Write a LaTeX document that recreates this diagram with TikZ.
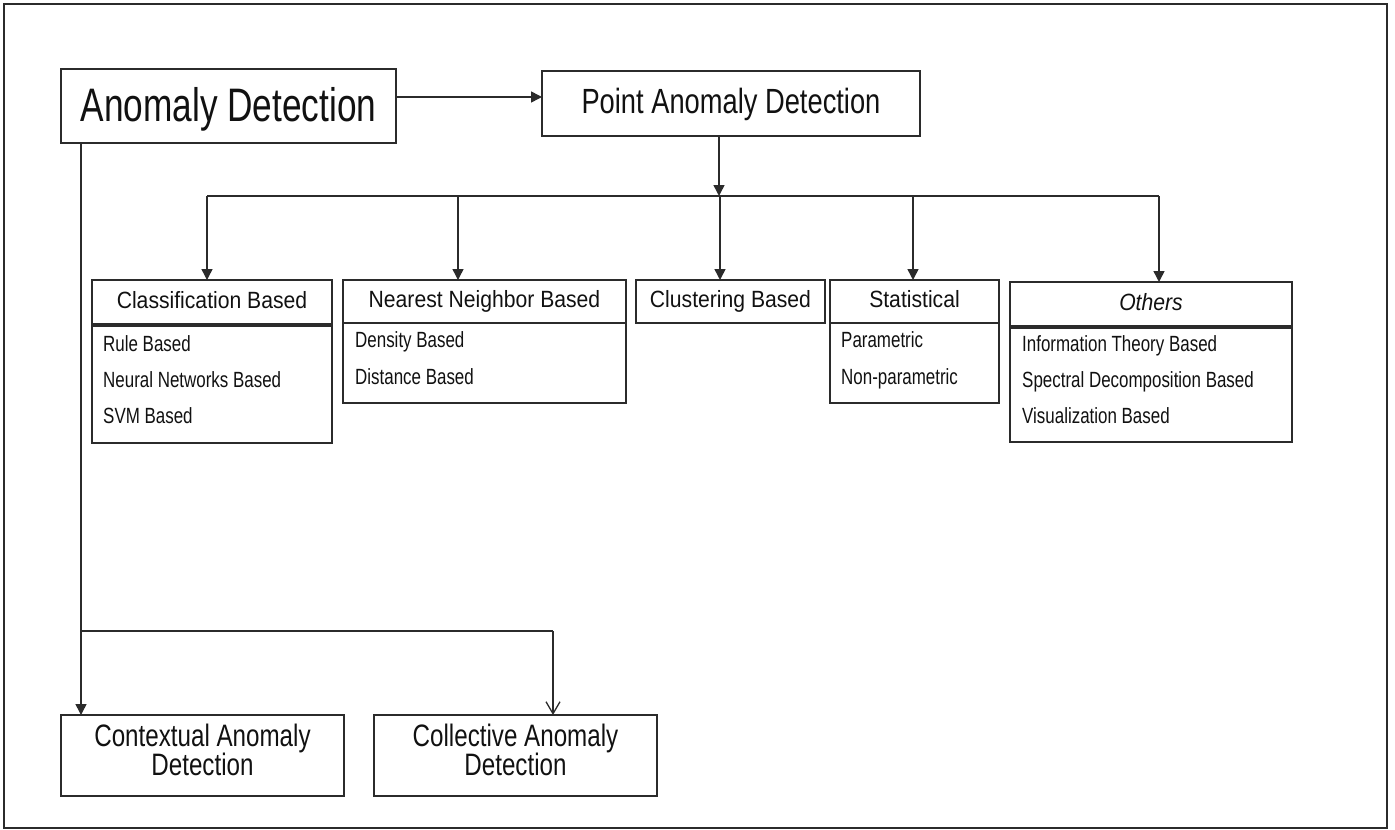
\documentclass[tikz,border=0pt]{standalone}
\usepackage{fontspec}
\usetikzlibrary{arrows.meta}
\newfontfamily\fTitle[FakeStretch=0.75]{Liberation Sans}
\newfontfamily\fPoint[FakeStretch=0.78]{Liberation Sans}
\newfontfamily\fHead[FakeStretch=0.9]{Liberation Sans}
\newfontfamily\fItem[FakeStretch=0.77]{Liberation Sans}
\newfontfamily\fBot[FakeStretch=0.78]{Liberation Sans}
\definecolor{linec}{HTML}{2B2B2B}
\definecolor{txtc}{HTML}{111111}
\tikzset{
  box/.style={draw=linec, line width=1.6pt, inner sep=0pt, outer sep=0pt, anchor=north west, text=txtc},
  titletext/.style={font=\fTitle\fontsize{47}{50}\selectfont, text height=34pt, text depth=4pt},
  pointtext/.style={font=\fPoint\fontsize{35}{38}\selectfont, text height=25pt, text depth=6pt},
  headtext/.style={font=\fHead\fontsize{23.5}{26}\selectfont, text height=17pt, text depth=6pt},
  itemtext/.style={font=\fItem\fontsize{22}{24}\selectfont, inner sep=0pt, anchor=base west, text=txtc},
  bottext/.style={font=\fBot\fontsize{31}{33}\selectfont, inner sep=0pt, anchor=base, text=txtc},
  conn/.style={draw=linec, line width=1.5pt},
  arr/.style={conn, -{Triangle[length=11pt,width=11pt]}},
  oarr/.style={conn, -{Straight Barb[length=12pt,width=14pt,line width=1.3pt]}},
  divider/.style={draw=linec, line width=3.2pt},
}
\begin{document}
\begin{tikzpicture}[x=1pt,y=-1pt]
\useasboundingbox (0,0) rectangle (1395,830);
\draw[draw=linec, line width=2pt] (4,4) rectangle (1387,828);

% top level
\node[box, titletext, minimum width=335pt, minimum height=74pt] (anom) at (61,69) {Anomaly Detection};
\node[box, pointtext, minimum width=378pt, minimum height=65pt] (point) at (542,71) {Point Anomaly Detection};

% category boxes
\node[box, headtext, minimum width=240pt, minimum height=45pt] (cls) at (92,280) {Classification Based};
\node[box, minimum width=240pt, minimum height=118pt] (clsb) at (92,325) {};
\node[box, headtext, minimum width=283pt, minimum height=43pt] (nn) at (343,280) {Nearest Neighbor Based};
\node[box, minimum width=283pt, minimum height=80pt] (nnb) at (343,323) {};
\node[box, headtext, minimum width=189pt, minimum height=43pt] (clu) at (636,280) {Clustering Based};
\node[box, headtext, minimum width=169pt, minimum height=43pt] (sta) at (830,280) {Statistical};
\node[box, minimum width=169pt, minimum height=80pt] (stab) at (830,323) {};
\node[box, headtext, minimum width=282pt, minimum height=45pt] (oth) at (1010,282) {\itshape Others};
\node[box, minimum width=282pt, minimum height=115pt] (othb) at (1010,327) {};
\draw[divider] (clsb.north west) -- (clsb.north east);
\draw[divider] (othb.north west) -- (othb.north east);

% items
\node[itemtext] (c1) at (103,351) {Rule Based};
\node[itemtext] (c2) at (103,387) {Neural Networks Based};
\node[itemtext] (c3) at (103,423) {SVM Based};
\node[itemtext] (n1) at (355,347) {Density Based};
\node[itemtext] (n2) at (355,384) {Distance Based};
\node[itemtext] (s1) at (841,347) {Parametric};
\node[itemtext] (s2) at (841,384) {Non-parametric};
\node[itemtext] (o1) at (1022,351) {Information Theory Based};
\node[itemtext] (o2) at (1022,387) {Spectral Decomposition Based};
\node[itemtext] (o3) at (1022,423) {Visualization Based};

% bottom boxes
\node[box, minimum width=283pt, minimum height=81pt] (ctx) at (61,715) {};
\node[box, minimum width=283pt, minimum height=81pt] (col) at (374,715) {};
\node[bottext] (ctx1) at (ctx.center |- 0,746) {Contextual Anomaly};
\node[bottext] (ctx2) at (ctx.center |- 0,775) {Detection};
\node[bottext] (col1) at (col.center |- 0,746) {Collective Anomaly};
\node[bottext] (col2) at (col.center |- 0,775) {Detection};

% connectors
\coordinate (ay) at (0,97);
\draw[arr] (anom.east |- ay) -- (point.west |- ay);
\coordinate (bus1) at (207,196);
\coordinate (bus2) at (458,196);
\coordinate (bus3) at (720,196);
\coordinate (bus4) at (913,196);
\coordinate (bus5) at (1159,196);
\coordinate (pd) at (719,196);
\draw[arr] (point.south -| pd) -- (pd);
\draw[conn] (bus1) -- (bus5);
\draw[arr] (bus1) -- (cls.north -| bus1);
\draw[arr] (bus2) -- (nn.north -| bus2);
\draw[arr] (bus3) -- (clu.north -| bus3);
\draw[arr] (bus4) -- (sta.north -| bus4);
\draw[arr] (bus5) -- (oth.north -| bus5);

\coordinate (j1) at (81,631);
\coordinate (j2) at (553,631);
\draw[arr] (anom.south -| j1) -- (ctx.north -| j1);
\draw[conn] (j1) -- (j2);
\draw[oarr] (j2) -- (col.north -| j2);
\end{tikzpicture}
\end{document}
